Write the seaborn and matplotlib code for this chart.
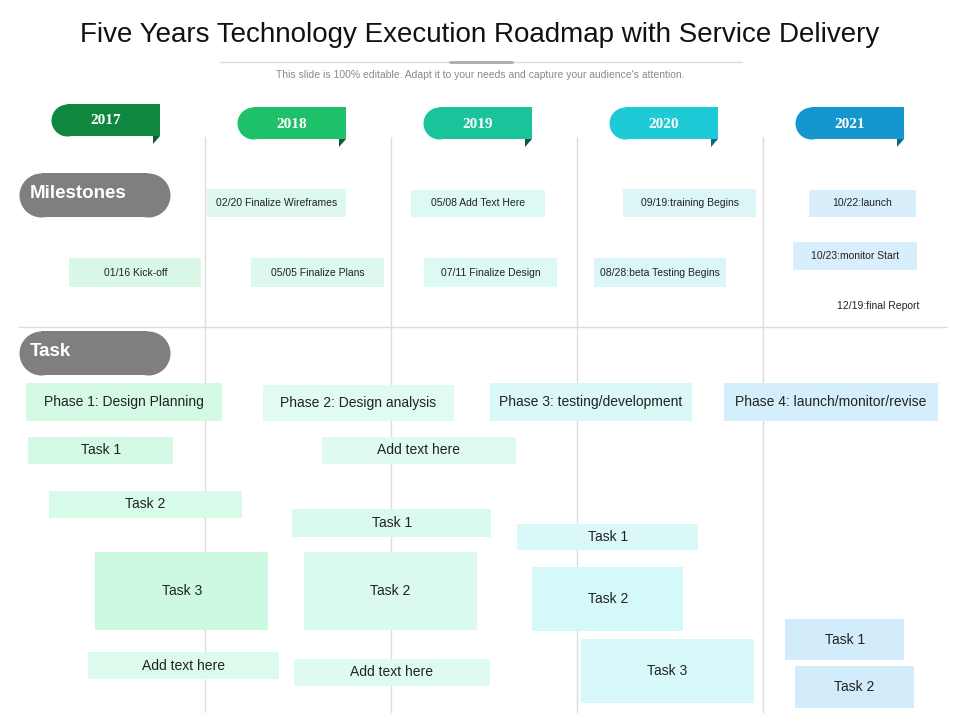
import matplotlib
matplotlib.use("Agg")
import matplotlib.pyplot as plt
import seaborn as sns
from matplotlib.patches import Polygon

sns.set_theme(style="white")
plt.rcParams["font.family"] = ["Liberation Sans", "DejaVu Sans"]

years = [2017, 2018, 2019, 2020, 2021]
year_colors = ["#10873f", "#1ec06a", "#1ac39a", "#1ecad5", "#1497cf"]

ms_labels = ["02/20 Finalize Wireframes", "05/08 Add Text Here", "09/19:training Begins",
             "10/22:launch", "01/16 Kick-off", "05/05 Finalize Plans", "07/11 Finalize Design",
             "08/28:beta Testing Begins", "10/23:monitor Start"]
ms_start = [2018.01, 2019.11, 2020.25, 2021.25, 2017.27, 2018.25, 2019.18, 2020.09, 2021.16]
ms_end = [2018.76, 2019.83, 2020.96, 2021.82, 2017.98, 2018.96, 2019.89, 2020.80, 2021.83]
ms_top = [189, 190, 189, 190, 258, 258, 258, 258, 242]
ms_bot = [217, 217, 217, 217, 287, 287, 287, 287, 270]
ms_colors = ["#ddf9ee", "#dcfaf3", "#dcf6f8", "#d8eefb", "#d9f8e8", "#ddf9ee", "#dcfaf3", "#dcf6f8", "#d8eefb"]

phase_labels = ["Phase 1: Design Planning", "Phase 2: Design analysis",
                "Phase 3: testing/development", "Phase 4: launch/monitor/revise"]
phase_start = [2017.04, 2018.31, 2019.53, 2020.79]
phase_end = [2018.09, 2019.34, 2020.62, 2021.94]
phase_top = [383, 385, 383, 383]
phase_bot = [421, 421, 421, 421]
phase_colors = ["#d4fae6", "#e0fbf0", "#daf8f6", "#d4eefb"]

task_labels = ["Task 1", "Task 2", "Task 3", "Add text here", "Add text here", "Task 1",
               "Task 2", "Add text here", "Task 1", "Task 2", "Task 3", "Task 1", "Task 2"]
task_start = [2017.05, 2017.16, 2017.41, 2017.37, 2018.63, 2018.47, 2018.53, 2018.48,
              2019.68, 2019.76, 2020.02, 2021.12, 2021.17]
task_end = [2017.83, 2018.20, 2018.34, 2018.40, 2019.67, 2019.54, 2019.46, 2019.53,
            2020.65, 2020.57, 2020.95, 2021.76, 2021.81]
task_top = [437, 491, 552, 652, 437, 509, 552, 659, 524, 567, 639, 619, 666]
task_bot = [464, 518, 630, 679, 464, 537, 630, 686, 550, 631, 703, 660, 708]
task_colors = ["#d4fae6", "#d8fae9", "#cdf9e2", "#dcfbec", "#dffbef", "#dafaef", "#dbfaef",
               "#dffbf0", "#d9f8f7", "#d5f8f8", "#d8f8f9", "#d3ecfb", "#d3ecfb"]

fig = plt.figure(figsize=(9.6, 7.2), dpi=100)
ax = fig.add_axes([0, 0, 1, 1])
x0 = 2017 - 19 / 186
ax.set_xlim(x0, x0 + 960 / 186)
ax.set_ylim(720, 0)
ax.axis("off")
W = 1 / 186

ax.text(x0 + 480 * W, 35, "Five Years Technology Execution Roadmap with Service Delivery",
        ha="center", va="center", fontsize=20, color="#111111")
ax.plot([x0 + 220 * W, x0 + 742 * W], [62, 62], color="#dddddd", lw=1)
ax.plot([x0 + 450 * W, x0 + 512 * W], [62, 62], color="#aaaaaa", lw=2)
ax.text(x0 + 480 * W, 75, "This slide is 100% editable. Adapt it to your needs and capture your audience's attention.",
        ha="center", va="center", fontsize=7.5, color="#8a8a8a")

for y in years[1:]:
    ax.plot([y, y], [137, 712], color="#dddddd", lw=1, zorder=0)
ax.plot([x0 + 19 * W, x0 + 947 * W], [327, 327], color="#dddddd", lw=1, zorder=0)

for i, (y, c) in enumerate(zip(years, year_colors)):
    top = 104 if i == 0 else 107
    left = y + 32 * W
    right = left + 109 * W
    ax.bar(left + 16 * W, 32, width=right - left - 16 * W, bottom=top, align="edge",
           color=c, zorder=3, linewidth=0)
    ax.scatter([left + 16 * W], [top + 16], s=(32 * 0.72) ** 2, color=c, zorder=3, linewidths=0)
    ax.add_patch(Polygon([(right - 7 * W, top + 32), (right, top + 32), (right - 7 * W, top + 40)],
                         closed=True, fc="#0b5a3a" if i < 3 else "#0a6a80", ec="none", zorder=3))
    ax.text((left + right) / 2, top + 17, str(y), ha="center", va="center", fontsize=11,
            color="white", fontweight="bold", family="Liberation Serif", zorder=4)

for label, top in [("Milestones", 173), ("Task", 331)]:
    ax.bar(x0 + 41 * W, 44, width=107 * W, bottom=top, align="edge", color="#7f7f7f",
           zorder=2, linewidth=0)
    ax.scatter([x0 + 41 * W, x0 + 148 * W], [top + 22, top + 22], s=(44 * 0.72) ** 2,
               color="#7f7f7f", zorder=2, linewidths=0)
    ax.text(x0 + 30 * W, top + 21, label, ha="left", va="center", fontsize=13.5,
            color="white", fontweight="bold", zorder=3)

def boxes(labels, s, e, t, b, cols, fs):
    for lab, a, z, tp, bt, c in zip(labels, s, e, t, b, cols):
        ax.bar(a, bt - tp, width=z - a, bottom=tp, align="edge", color=c, zorder=1, linewidth=0)
        ax.text((a + z) / 2, (tp + bt) / 2, lab, ha="center", va="center", fontsize=fs,
                color="#222222", zorder=2)

boxes(ms_labels, ms_start, ms_end, ms_top, ms_bot, ms_colors, 7.5)
ax.text(2021.62, 306, "12/19:final Report", ha="center", va="center", fontsize=7.5, color="#222222")
boxes(phase_labels, phase_start, phase_end, phase_top, phase_bot, phase_colors, 10)
boxes(task_labels, task_start, task_end, task_top, task_bot, task_colors, 10)

fig.savefig("out.png", dpi=100)
